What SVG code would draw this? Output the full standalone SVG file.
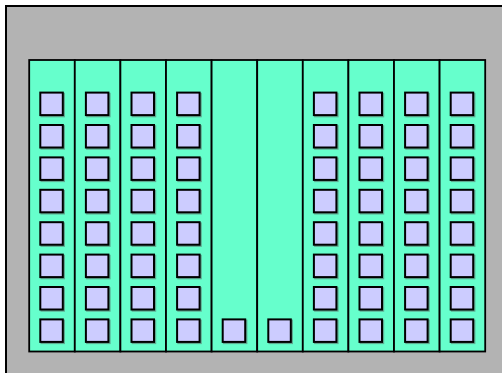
<svg xmlns="http://www.w3.org/2000/svg" xmlns:xlink="http://www.w3.org/1999/xlink" width="502" height="373" viewBox="0 0 502 373">
<style>
.outer{fill:#b3b3b3;stroke:#000;stroke-width:2}
.col{fill:#66ffcc;stroke:#000;stroke-width:1.8}
.colsh{fill:none;stroke:#4d4d4d;stroke-width:1.5;opacity:0.6}
.sq{fill:#ccccff;stroke:#000;stroke-width:2}
.sqsh{fill:none;stroke:#555;stroke-width:2;opacity:0.5}
</style>
<defs>
<g id="s">
<rect class="sqsh" x="1.2" y="1.2" width="22.5" height="22.5"/>
<rect class="sq" x="0" y="0" width="22.5" height="22.5"/>
</g>
<g id="stack">
<use xlink:href="#s" y="0"/>
<use xlink:href="#s" y="32.4"/>
<use xlink:href="#s" y="64.8"/>
<use xlink:href="#s" y="97.2"/>
<use xlink:href="#s" y="129.6"/>
<use xlink:href="#s" y="162"/>
<use xlink:href="#s" y="194.4"/>
<use xlink:href="#s" y="226.8"/>
</g>
</defs>
<rect x="0" y="0" width="502" height="373" fill="#fff"/>
<rect class="outer" x="6" y="6" width="520" height="400"/>
<g id="col1"><rect class="col" x="29.2" y="60" width="45.6" height="291.5"/><use xlink:href="#stack" x="40.3" y="92.6"/></g>
<g id="col2"><rect class="col" x="74.8" y="60" width="45.6" height="291.5"/><use xlink:href="#stack" x="85.9" y="92.6"/></g>
<g id="col3"><rect class="col" x="120.4" y="60" width="45.6" height="291.5"/><use xlink:href="#stack" x="131.5" y="92.6"/></g>
<g id="col4"><rect class="col" x="166" y="60" width="45.6" height="291.5"/><use xlink:href="#stack" x="177.1" y="92.6"/></g>
<g id="col5"><rect class="col" x="211.6" y="60" width="45.6" height="291.5"/><use xlink:href="#s" x="222.7" y="319.4"/></g>
<g id="col6"><rect class="col" x="257.2" y="60" width="45.6" height="291.5"/><use xlink:href="#s" x="268.3" y="319.4"/></g>
<g id="col7"><rect class="col" x="302.8" y="60" width="45.6" height="291.5"/><use xlink:href="#stack" x="313.9" y="92.6"/></g>
<g id="col8"><rect class="col" x="348.4" y="60" width="45.6" height="291.5"/><use xlink:href="#stack" x="359.5" y="92.6"/></g>
<g id="col9"><rect class="col" x="394" y="60" width="45.6" height="291.5"/><use xlink:href="#stack" x="405.1" y="92.6"/></g>
<g id="col10"><rect class="col" x="439.6" y="60" width="45.6" height="291.5"/><use xlink:href="#stack" x="450.7" y="92.6"/></g>
<g id="connectors"/>
</svg>
